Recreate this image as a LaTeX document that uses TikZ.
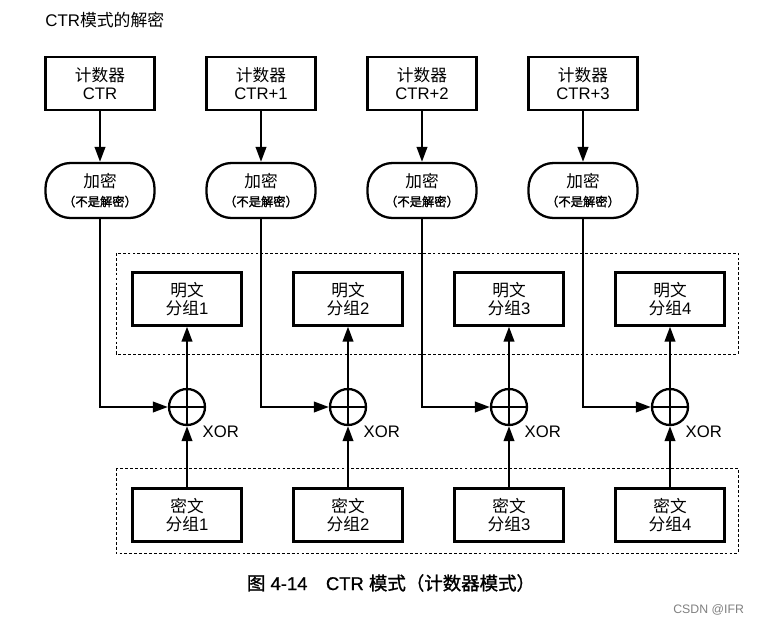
\documentclass[tikz,border=0pt]{standalone}
\usepackage{fontspec}
\setmainfont{Liberation Sans}
\newfontfamily\cjk{Noto Sans CJK SC}
\newfontfamily\cjkb[FakeBold=1.5]{Noto Sans CJK SC}
\newfontfamily\capfont[FakeBold=0.8]{Liberation Sans}
\newfontfamily\capcjk[FakeBold=1.2]{Noto Sans CJK SC}
\usetikzlibrary{arrows.meta}
\begin{document}
\begin{tikzpicture}[x=0.02cm,y=-0.02cm]
  \useasboundingbox (0,0) rectangle (761,626);
  \tikzstyle{box}=[draw,line width=1.3pt,minimum width=2.18cm,minimum height=1.06cm,align=center,inner sep=0pt,font=\fontsize{9.5}{10.5}\selectfont]
  \tikzstyle{encbox}=[box,rounded corners=0.5cm,minimum height=1.1cm]
  \tikzstyle{xorop}=[draw,circle,line width=1.3pt,minimum size=0.72cm,inner sep=0pt]
  \tikzstyle{arr}=[line width=1.3pt,-{Triangle[length=3mm,width=2.1mm]}]
  \tikzstyle{grp}=[line width=0.5pt,dash pattern=on 1.6pt off 1.2pt]

  \node[anchor=west,inner sep=0pt,font=\fontsize{9.6}{11}\selectfont] (title) at (45,20) {CTR{\cjk 模式的解密}};

  % the two groups of blocks
  \draw[grp] (116,253) rectangle (738,354);
  \draw[grp] (116,468) rectangle (738,553);

  \foreach \i/\ctr in {1/CTR,2/CTR+1,3/CTR+2,4/CTR+3}{
    \node[box] (ctr\i) at ({100+161*(\i-1)},83.5) {{\cjk 计数器}\\\ctr};
    \node[encbox] (enc\i) at ({100+161*(\i-1)},190.5) {{\cjk 加密}\\{\fontsize{7}{8}\selectfont\cjkb （不是解密）}};
    \node[box] (pt\i) at ({187+161*(\i-1)},299) {{\cjk 明文}\\{\cjk 分组}\i};
    \node[xorop] (xor\i) at ({187+161*(\i-1)},407) {};
    \node[box] (ct\i) at ({187+161*(\i-1)},515) {{\cjk 密文}\\{\cjk 分组}\i};
    \draw[line width=1.3pt] (xor\i.north) -- (xor\i.south) (xor\i.west) -- (xor\i.east);
    \node[anchor=north west,inner sep=1pt,font=\fontsize{9.5}{10.5}\selectfont] (xl\i) at ([yshift=-2pt]xor\i.south east) {XOR};
    \draw[arr] (ctr\i) -- (enc\i);
    \draw[arr] (enc\i) |- (xor\i);
    \draw[arr] (ct\i) -- (xor\i);
    \draw[arr] (xor\i) -- (pt\i);
  }

  \node[inner sep=0pt,font=\fontsize{10.5}{12}\selectfont] (caption) at (391,583) {{\capcjk 图} {\capfont 4-14\quad CTR} {\capcjk 模式（计数器模式）}};
  \node[anchor=west,inner sep=0pt,text=gray,font=\fontsize{7}{8}\selectfont] (mark) at (673,610) {CSDN @IFR};
\end{tikzpicture}
\end{document}
